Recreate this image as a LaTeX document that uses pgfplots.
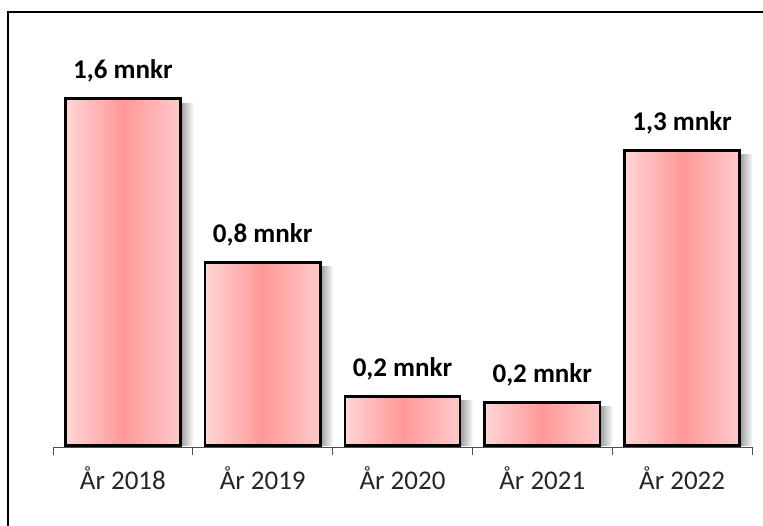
\documentclass[border=0pt]{standalone}
\usepackage{pgfplots}
\pgfplotsset{compat=1.18}
\usepackage{fontspec}
\setmainfont{Carlito}
\definecolor{pinkedgeL}{RGB}{255,214,214}
\definecolor{pinkedgeR}{RGB}{255,202,202}
\definecolor{pinkmid}{RGB}{255,152,152}
\pgfdeclarehorizontalshading{barshadow}{100bp}{color(0bp)=(black!58); color(66bp)=(black!58); color(70bp)=(black!35); color(75bp)=(white); color(100bp)=(white)}
\pgfplotsset{
  shadowbar/.style={ybar, bar width=0.825, bar shift=13pt, draw=none, shading=barshadow, forget plot},
  pinkbar/.style={ybar, bar width=0.825, bar shift=0pt, draw=black, line width=2.6pt,
    left color=pinkedgeL, right color=pinkedgeR, middle color=pinkmid,
    nodes near coords, point meta=explicit symbolic,
    every node near coord/.style={font=\bfseries\fontsize{27}{32}\selectfont, text=black, anchor=base, yshift=20pt}},
}
\begin{document}
\begin{tikzpicture}[x=1pt,y=1pt]
\useasboundingbox (0,0) rectangle (763,526);
\draw[line width=1.5pt] (8,0) -- (8,514) -- (763,514);
\begin{axis}[
  at={(53pt,79pt)}, anchor=south west,
  scale only axis, width=699pt, height=437.5pt,
  xmin=-0.5, xmax=4.5, ymin=-0.007, ymax=2,
  axis x line*=bottom, axis y line=none,
  x axis line style={black!70, line width=0.8pt, -},
  xtick={0,1,2,3,4},
  xticklabels={År 2018,År 2019,År 2020,År 2021,År 2022},
  major x tick style={draw=none},
  minor xtick={-0.5,0.5,1.5,2.5,3.5,4.5},
  minor x tick style={black!70, line width=0.8pt},
  tick align=outside, minor tick length=8pt, major tick length=0pt,
  xticklabel style={font=\fontsize{27}{32}\selectfont, text=black!85, anchor=base, yshift=-43pt},
  ytick=\empty,
]
% shadows
\addplot[shadowbar] coordinates {(0,1.57)};
\addplot[shadowbar] coordinates {(1,0.82)};
\addplot[shadowbar] coordinates {(2,0.205)};
\addplot[shadowbar] coordinates {(3,0.178)};
\addplot[shadowbar] coordinates {(4,1.333)};
% bars
\addplot[pinkbar] coordinates {(0,1.593) [1,6 mnkr]};
\addplot[pinkbar] coordinates {(1,0.84) [0,8 mnkr]};
\addplot[pinkbar] coordinates {(2,0.224) [0,2 mnkr]};
\addplot[pinkbar] coordinates {(3,0.197) [0,2 mnkr]};
\addplot[pinkbar] coordinates {(4,1.353) [1,3 mnkr]};
\end{axis}
\end{tikzpicture}
\end{document}
